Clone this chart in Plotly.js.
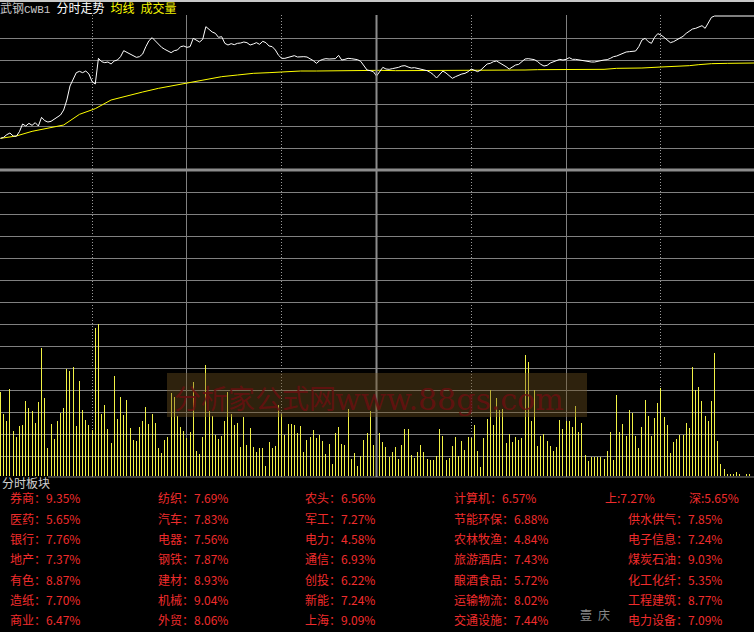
<!DOCTYPE html>
<html><head><meta charset="utf-8">
<script src="https://cdn.plot.ly/plotly-3.0.1.min.js"></script>
<style>html,body{margin:0;padding:0;background:#000;}#chart{width:754px;height:632px;}</style>
</head><body><div id="chart"></div>
<script>
// ---- data ----
const price = [
1.095,1.098,1.106,1.111,1.102,1.101,1.115,1.138,1.132,1.140,
1.134,1.142,1.132,1.158,1.148,1.144,1.146,1.152,1.158,1.165,
1.180,1.210,1.252,1.274,1.292,1.296,1.292,1.297,1.288,1.265,
1.258,1.335,1.325,1.322,1.324,1.318,1.327,1.330,1.340,1.358,
1.353,1.350,1.345,1.338,1.340,1.348,1.370,1.388,1.397,1.387,
1.377,1.368,1.362,1.358,1.352,1.358,1.360,1.370,1.372,1.368,
1.370,1.395,1.390,1.384,1.392,1.430,1.422,1.414,1.410,1.398,
1.400,1.380,1.375,1.379,1.376,1.380,1.381,1.384,1.382,1.375,
1.378,1.382,1.377,1.386,1.382,1.372,1.370,1.360,1.344,1.335,
1.335,1.337,1.340,1.343,1.339,1.340,1.340,1.339,1.334,1.328,
1.320,1.328,1.332,1.334,1.333,1.334,1.334,1.344,1.330,1.332,
1.335,1.334,1.332,1.331,1.326,1.312,1.300,1.298,1.295,1.282,
1.297,1.308,1.303,1.302,1.304,1.305,1.308,1.312,1.313,1.309,
1.306,1.307,1.305,
1.303,1.300,1.298,1.293,1.286,1.276,
1.288,1.297,1.291,1.282,1.275,1.280,1.285,1.288,1.290,1.295,
1.303,1.298,1.295,1.300,1.310,1.318,1.320,1.325,1.327,1.322,
1.317,1.310,1.303,1.310,1.315,1.317,1.324,1.333,1.334,1.332,
1.331,1.325,1.317,1.312,1.314,1.321,1.325,1.328,1.332,1.330,1.332,
1.337,1.332,1.332,1.330,1.328,1.326,1.325,1.324,
1.324,1.325,1.328,1.330,1.331,1.335,1.340,1.342,1.346,1.351,
1.354,1.355,1.355,1.357,1.370,1.390,1.395,1.385,1.380,1.398,
1.409,1.405,1.398,1.389,1.382,1.385,1.391,1.397,1.401,1.410,
1.417,1.423,1.425,1.428,1.433,1.425,1.440,1.458,
1.462,1.462,1.462,1.462,1.462,1.462,1.462,1.462,1.462,1.462,1.462,1.462,1.462,1.462
];
const avgMinutes = [0,5,10,15,20,25,30,35,40,45,50,55,60,65,70,75,80,85,90,95,100,105,110,115,120,125,130,140,150,160,166,170,180,191,195,203,209,215,218,221,225,230,239];
const avgPrice = [1.095,1.102,1.116,1.125,1.135,1.167,1.184,1.210,1.223,1.234,1.245,1.254,1.261,1.270,1.280,1.285,1.290,1.292,1.295,1.297,1.297,1.298,1.299,1.299,1.299,1.298,1.298,1.298,1.299,1.299,1.300,1.301,1.301,1.302,1.305,1.306,1.309,1.311,1.313,1.316,1.319,1.320,1.321];
const volume = [
84,62,55,87,45,39,50,51,75,68, 65,53,74,128,78,28,52,37,55,63,
68,107,105,109,50,95,66,56,51,46, 148,152,62,71,47,33,100,57,79,61,
76,48,36,35,49,55,69,52,62,53, 28,23,36,39,83,79,60,49,45,38,
44,94,25,22,39,111,65,60,41,37, 40,55,84,62,51,53,29,59,31,48,
29,24,28,28,10,34,28,30,71,62, 41,52,52,51,43,50,24,36,39,46,
38,41,35,22,32,12,43,49,32,31, 67,17,23,10,20,36,43,65,31,29,
43,
34,29,19,24,29,17,31,47,47,21, 18,24,31,24,17,16,16,20,47,40,
16,18,30,39,20,35,26,39,38,51, 25,9,38,57,86,51,78,66,67,33,
42,34,39,36,38,121,114,55,86,30, 40,42,35,30,25,29,56,47,55,55,
49,70,44,53,21,15,19,19,19,19, 17,25,44,16,81,44,52,40,66,63,
40,28,49,76,60,40,58,73,88,59, 51,23,34,37,41,41,53,48,109,86,
89,75,60,55,75,123,35,12,7,2, 2,2,4,2,0,2,2,0
];
const sectorCol1 = ['券商','医药','银行','地产','有色','造纸','商业'];
const pctCol1 = [9.35,5.65,7.76,7.37,8.87,7.70,6.47];
const sectorCol2 = ['纺织','汽车','电器','钢铁','建材','机械','外贸'];
const pctCol2 = [7.69,7.83,7.56,7.87,8.93,9.04,8.06];
const sectorCol3 = ['农头','军工','电力','通信','创投','新能','上海'];
const pctCol3 = [6.56,7.27,4.58,6.93,6.22,7.24,9.09];
const sectorCol4 = ['计算机','节能环保','农林牧渔','旅游酒店','酿酒食品','运输物流','交通设施'];
const pctCol4 = [6.57,6.88,4.84,7.43,5.72,8.02,7.44];
const sectorCol5 = ['供水供气','电子信息','煤炭石油','化工化纤','工程建筑','电力设备'];
const pctCol5 = [7.85,7.24,9.03,5.35,8.77,7.09];
const indexNames = ['上','深'];
const indexPcts = [7.27,5.65];

// ---- geometry ----
const W = 754, H = 632, TOP = 15, BOT = 477;
const PH = BOT - TOP;
const fx = px => px / W;
const fy = py => (BOT - py) / PH;
const splitY = fy(170);
const CJK = 'Noto Sans CJK SC, sans-serif';
const RED = '#f02c2c';
const GRID = '#808080';
const XR = [-0.15, 238.46];
const onePx = (XR[1] - XR[0]) / W;

const idx = volume.map((_, i) => i);
const pidx = price.map((_, i) => i);

const traces = [
  {type:'bar', x: idx, y: volume, xaxis:'x', yaxis:'y2', width: onePx,
   marker:{color:'rgba(245,245,70,0.99)', line:{width:0}}, hoverinfo:'skip'},
  {type:'scatter', mode:'lines', x: avgMinutes, y: avgPrice, xaxis:'x', yaxis:'y',
   line:{color:'#ffff00', width:1}, hoverinfo:'skip'},
  {type:'scatter', mode:'lines', x: pidx, y: price, xaxis:'x', yaxis:'y',
   line:{color:'#ffffff', width:1}, hoverinfo:'skip'}
];

const fmt = (n, p) => n + '：' + p.toFixed(2) + '%';
const rowsY = [497, 518, 538, 558, 579, 599, 619];
const ann = [];
function addText(text, px, py, color, size, family, anchor) {
  ann.push({text, x: fx(px), y: fy(py), xref:'paper', yref:'paper', showarrow:false,
    xanchor: anchor || 'left', yanchor:'middle', font:{color, size: size || 12, family: family || CJK}});
}
[[sectorCol1,pctCol1,8],[sectorCol2,pctCol2,156],[sectorCol3,pctCol3,303],[sectorCol4,pctCol4,452]].forEach(([names,pcts,x]) => {
  names.forEach((n,i) => addText(fmt(n,pcts[i]), x, rowsY[i], RED));
});
sectorCol5.forEach((n,i) => addText(fmt(n,pctCol5[i]), 626, rowsY[i+1], RED));
addText(indexNames[0] + ':' + indexPcts[0].toFixed(2) + '%', 603, rowsY[0], RED);
addText(indexNames[1] + ':' + indexPcts[1].toFixed(2) + '%', 687, rowsY[0], RED);
addText('分时板块', 0, 483, '#d0d0d0');
addText('壹\u2002庆', 578, 614, '#8a8a8a');
addText('分析家公式网', 172, 397, 'rgba(105,16,16,0.85)', 27);
addText('www.88gs.com', 333, 399, 'rgba(105,16,16,0.85)', 30, 'DejaVu Serif, serif');

const shapes = [
  {type:'line', xref:'paper', yref:'paper', x0:0, x1:1, y0:fy(1), y1:fy(1), layer:'above', line:{color:'#c8c8c8', width:2}},
  {type:'line', xref:'paper', yref:'paper', x0:0, x1:1, y0:splitY, y1:splitY, layer:'above', line:{color:'#8c8c8c', width:3}},
  {type:'line', xref:'x', yref:'paper', x0:119, x1:119, y0:0, y1:1, layer:'above', line:{color:'#8c8c8c', width:2}},
  {type:'line', xref:'paper', yref:'paper', x0:fx(48), x1:1, y0:fy(477), y1:fy(477), layer:'above', line:{color:GRID, width:1}},
  {type:'rect', xref:'paper', yref:'paper', x0:fx(167), x1:fx(587), y0:fy(417), y1:fy(373), layer:'above',
   fillcolor:'rgba(110,80,30,0.42)', line:{width:0}}
];

const layout = {
  width: W, height: H,
  margin: {l:0, r:0, t:TOP, b:H-BOT, pad:0},
  paper_bgcolor:'#000', plot_bgcolor:'#000',
  showlegend:false, bargap:0,
  font:{family: CJK, size:12, color:'#fff'},
  title: {
    text: '<span style="color:#c8c8c8">武钢<span style="font-family:Liberation Mono;font-size:11px">CWB1</span></span>\u2002分时走势\u2002<span style="color:#ffff00">均线</span>\u2002<span style="color:#f0f000">成交量</span>',
    x: 0, xanchor:'left', xref:'container', y: 1 - 9/H, yanchor:'middle', yref:'container',
    pad:{l:0, r:0, t:0, b:0}, font:{size:12, family:CJK, color:'#ffffff'}
  },
  xaxis: {
    range: XR, anchor:'y2', showticklabels:false, ticks:'', zeroline:false, showline:false,
    showgrid:true, tickmode:'array', tickvals:[59,119,179], gridcolor:GRID, gridwidth:1,
    minor:{tickmode:'array', tickvals:[29,89,149,209], showgrid:true, gridcolor:'#9a9a9a', griddash:'1px,2px', gridwidth:1, ticks:''},
    fixedrange:true
  },
  yaxis: {
    domain:[splitY, 1], range:[1.000, 1.465], tick0:1.0, dtick:0.066,
    showgrid:true, gridcolor:GRID, gridwidth:1, showticklabels:false, ticks:'', zeroline:false, fixedrange:true
  },
  yaxis2: {
    domain:[0, splitY], range:[-1, 306], tick0:20, dtick:22,
    showgrid:true, gridcolor:GRID, gridwidth:1, showticklabels:false, ticks:'', zeroline:false, fixedrange:true
  },
  shapes, annotations: ann
};

Plotly.newPlot('chart', traces, layout, {displayModeBar:false, staticPlot:true});
</script>
</body></html>
